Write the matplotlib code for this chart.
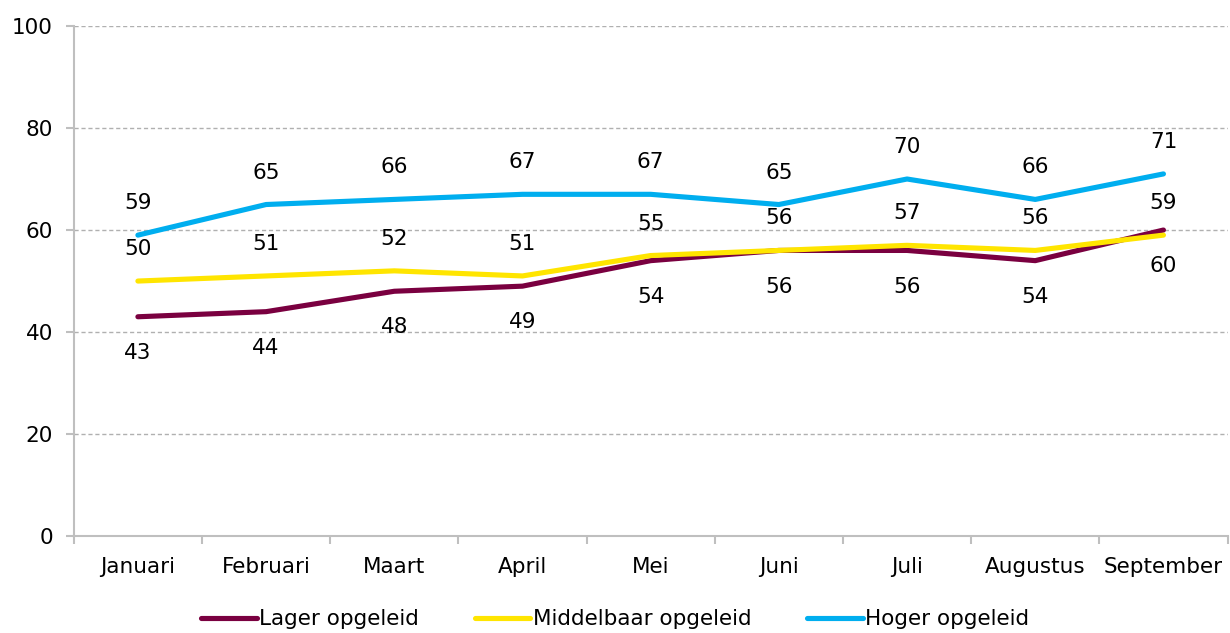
import matplotlib
matplotlib.use("Agg")
import matplotlib.pyplot as plt
import numpy as np

months = ["Januari", "Februari", "Maart", "April", "Mei", "Juni", "Juli", "Augustus", "September"]
lager = [43, 44, 48, 49, 54, 56, 56, 54, 60]
middelbaar = [50, 51, 52, 51, 55, 56, 57, 56, 59]
hoger = [59, 65, 66, 67, 67, 65, 70, 66, 71]
yticks = [0, 20, 40, 60, 80, 100]

plt.rcParams['font.family'] = ['DejaVu Sans']
fig = plt.figure(figsize=(12.3, 6.33), dpi=100)
ax = fig.add_axes([0.060, 0.153, 0.938, 0.806])

x = np.arange(len(months))
c_l, c_m, c_h = "#7A0040", "#FFE500", "#00AEEF"
ax.plot(x, lager, color=c_l, lw=3.7, label="Lager opgeleid", solid_capstyle="round", zorder=3)
ax.plot(x, middelbaar, color=c_m, lw=3.7, label="Middelbaar opgeleid", solid_capstyle="round", zorder=3)
ax.plot(x, hoger, color=c_h, lw=3.7, label="Hoger opgeleid", solid_capstyle="round", zorder=3)

fs = 15.5
for xi, v in zip(x, lager):
    ax.annotate(str(v), (xi, v), xytext=(0, -26), textcoords="offset points", ha="center", va="center", fontsize=fs)
for xi, v in zip(x, middelbaar):
    ax.annotate(str(v), (xi, v), xytext=(0, 23), textcoords="offset points", ha="center", va="center", fontsize=fs)
for xi, v in zip(x, hoger):
    ax.annotate(str(v), (xi, v), xytext=(0, 23), textcoords="offset points", ha="center", va="center", fontsize=fs)

ax.set_xlim(-0.5, len(months) - 0.5)
ax.set_ylim(0, 100)
ax.set_yticks(yticks)
ax.set_yticklabels([str(t) for t in yticks], fontsize=fs)
ax.set_xticks(x)
ax.set_xticklabels(months, fontsize=fs)
ax.tick_params(axis="x", which="major", length=0, pad=15)
ax.set_xticks(np.arange(-0.5, len(months), 1), minor=True)
ax.tick_params(axis="x", which="minor", length=6, color="#BFBFBF", width=1.5)
ax.tick_params(axis="y", length=6, color="#BFBFBF", width=1.5, pad=9)

ax.yaxis.grid(True, linestyle=(0, (3, 2)), color="#B0B0B0", lw=1)
ax.set_axisbelow(True)
for s in ["top", "right"]:
    ax.spines[s].set_visible(False)
for s in ["left", "bottom"]:
    ax.spines[s].set_color("#BFBFBF")
    ax.spines[s].set_linewidth(1.5)

fig.legend(loc="lower center", bbox_to_anchor=(0.50, -0.025), ncol=3, frameon=False,
           fontsize=fs, handlelength=2.6, handletextpad=0.1, columnspacing=2.6)

fig.savefig("out.png", dpi=100)
